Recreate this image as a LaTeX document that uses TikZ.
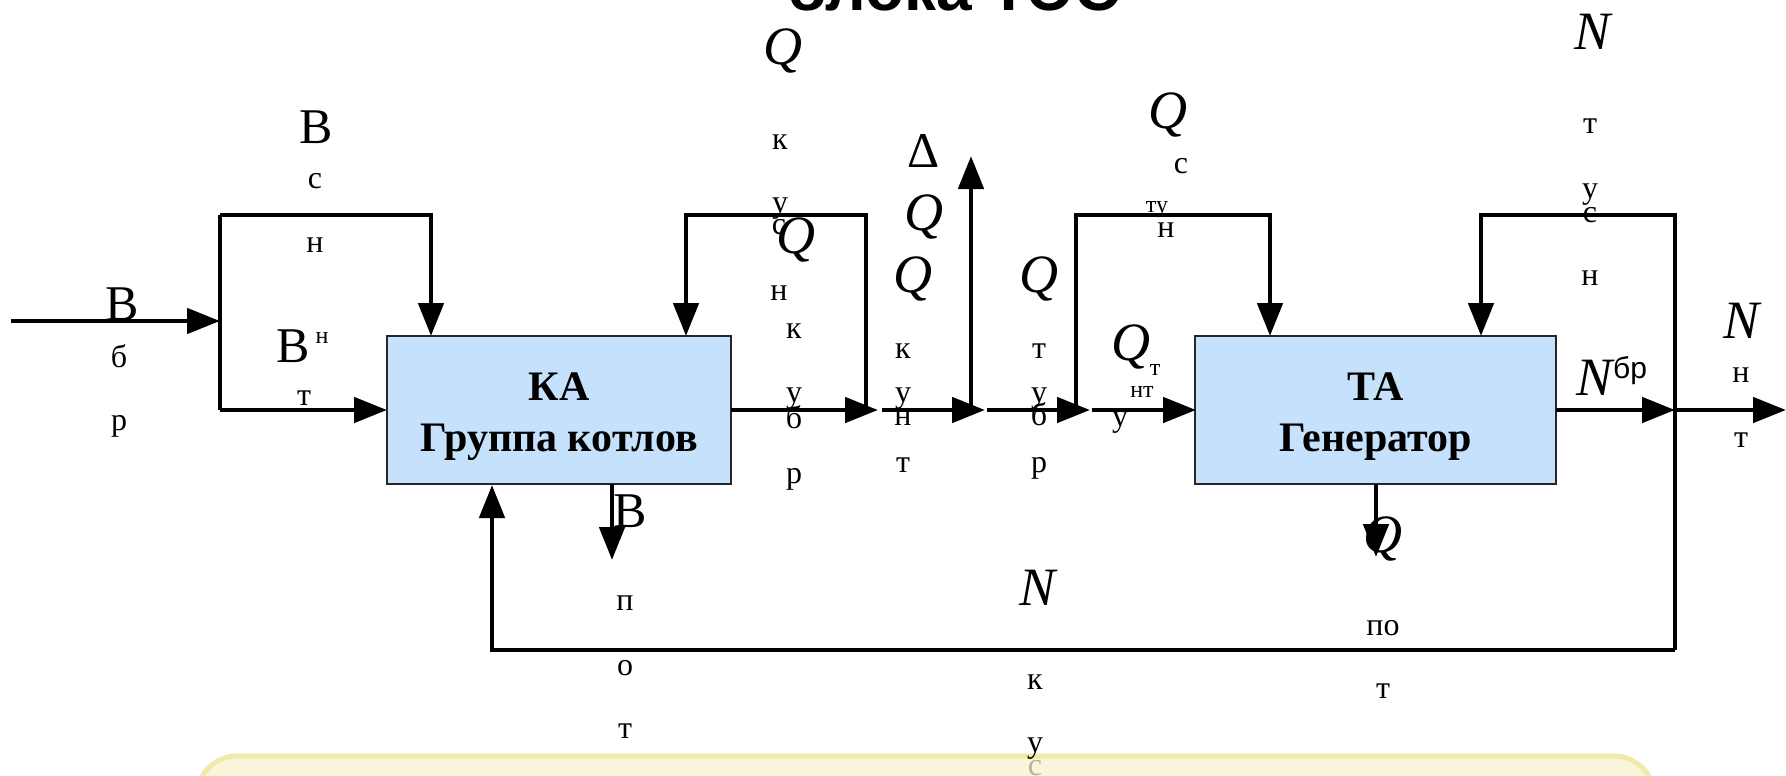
\documentclass[tikz,border=0pt]{standalone}
\usepackage{fontspec}
\setmainfont{Liberation Serif}
\setsansfont{Liberation Sans}
\usetikzlibrary{arrows.meta}
\definecolor{boxblue}{HTML}{C5E1FB}
\definecolor{noteline}{HTML}{F0EAA9}
\definecolor{notefill}{HTML}{F8F6DA}
\definecolor{fadetext}{HTML}{B8B49A}
\begin{document}
\begin{tikzpicture}[x=1pt,y=-1pt,
  wire/.style={line width=4.8pt},
  flow/.style={line width=4.8pt,-{Triangle[length=33pt,width=25pt]}},
  blk/.style={draw=black!85,line width=2.2pt,fill=boxblue,inner sep=0pt},
  btxt/.style={inner sep=0pt,anchor=base,font=\bfseries\fontsize{42}{42}\selectfont},
  lbig/.style={inner sep=0pt,anchor=base,font=\fontsize{50}{50}\selectfont},
  lit/.style={inner sep=0pt,anchor=base,font=\itshape\fontsize{54}{54}\selectfont},
  lsub/.style={inner sep=0pt,anchor=base,font=\fontsize{32}{32}\selectfont},
  lsmall/.style={inner sep=0pt,anchor=base,font=\fontsize{24}{24}\selectfont}]
\useasboundingbox (0,0) rectangle (1786,776);
\fill[white] (0,0) rectangle (1786,776);

% title (cut by the page edge)
\node[inner sep=0pt,anchor=base,font=\sffamily\bfseries\fontsize{64}{64}\selectfont] (title) at (954,11) {блока ТЭС};

% blocks
\node[blk,minimum width=344pt,minimum height=148pt] (KA) at (559,410) {};
\node[btxt] (KA1) at (559,400) {КА};
\node[btxt] (KA2) at (559,451) {Группа котлов};
\node[blk,minimum width=361pt,minimum height=148pt] (TA) at (1375.5,410) {};
\node[btxt] (TA1) at (1375.5,400) {ТА};
\node[btxt] (TA2) at (1375.5,451) {Генератор};

% coordinates
\coordinate (in) at (11,321);
\coordinate (a1) at (220,321);
\coordinate (aT) at (220,215);
\coordinate (aB) at (220,410);
\coordinate (aR) at (431,215);
\coordinate (kaL) at (387,410);
\coordinate (kaT1) at (431,336);
\coordinate (kaR) at (731,410);
\coordinate (kaT2) at (686,336);
\coordinate (bB) at (866,410);
\coordinate (bT) at (866,215);
\coordinate (bL) at (686,215);
\coordinate (s1e) at (878,410);
\coordinate (s2s) at (882,410);
\coordinate (s2e) at (985,410);
\coordinate (up0) at (971,410);
\coordinate (up1) at (971,156);
\coordinate (s3s) at (987,410);
\coordinate (s3e) at (1090,410);
\coordinate (cB) at (1076,410);
\coordinate (cT) at (1076,215);
\coordinate (cR) at (1270,215);
\coordinate (taT1) at (1270,336);
\coordinate (s4s) at (1092,410);
\coordinate (taL) at (1196,410);
\coordinate (taR) at (1556,410);
\coordinate (dM) at (1675,410);
\coordinate (dT) at (1675,215);
\coordinate (dL) at (1481,215);
\coordinate (taT2) at (1481,336);
\coordinate (dB) at (1675,650);
\coordinate (out) at (1786,410);
\coordinate (eL) at (492,650);
\coordinate (kaB) at (492,485);
\coordinate (kaD0) at (612,484);
\coordinate (kaD1) at (612,560);
\coordinate (taD0) at (1376,484);
\coordinate (taD1) at (1376,557);

% connectors
\draw[flow] (in) -- (a1);
\draw[wire] (aB) -- (aT);
\draw[flow] (aT) -- (aR) -- (kaT1);
\draw[flow] (aB) -- (kaL);
\draw[flow] (kaR) -- (s1e);
\draw[flow] (bB) -- (bT) -- (bL) -- (kaT2);
\draw[flow] (s2s) -- (s2e);
\draw[flow] (up0) -- (up1);
\draw[flow] (s3s) -- (s3e);
\draw[flow] (cB) -- (cT) -- (cR) -- (taT1);
\draw[flow] (s4s) -- (taL);
\draw[flow] (taR) -- (dM);
\draw[flow] (dB) -- (dT) -- (dL) -- (taT2);
\draw[flow] (dM) -- (out);
\draw[flow] (dB) -- (eL) -- (kaB);
\draw[flow] (kaD0) -- (kaD1);
\draw[flow] (taD0) -- (taD1);

% note box at the bottom
\draw[line width=5pt,draw=noteline,fill=notefill,rounded corners=40pt] (197,756) rectangle (1654,900);

% labels
\node[lbig] (l1) at (316,143) {В};
\node[lsub] (l2) at (315,188) {с};
\node[lsub] (l3) at (315,252) {н};
\node[lbig] (l4) at (122,320) {В};
\node[lsub] (l5) at (119,367) {б};
\node[lsub] (l6) at (119,430) {р};
\node[lbig] (l7) at (293,362) {В};
\node[lsmall] (l7a) at (322,343) {н};
\node[lsub] (l8) at (304,405) {т};
\node[lit] (l9) at (783,65) {Q};
\node[lsub] (l10) at (780,149) {к};
\node[lsub] (l11) at (780,212) {у};
\node[lsub] (l12) at (779,234) {с};
\node[lit] (l13) at (796,253) {Q};
\node[lsub] (l14) at (779,300) {н};
\node[lsub] (l15) at (794,338) {к};
\node[lsub] (l16) at (794,402) {у};
\node[lsub] (l17) at (794,428) {б};
\node[lsub] (l18) at (794,483) {р};
\node[lbig] (l19) at (924,167) {Δ};
\node[lit] (l20) at (924,230) {Q};
\node[lit] (l21) at (913,292) {Q};
\node[lsub] (l22) at (903,358) {к};
\node[lsub] (l23) at (903,402) {у};
\node[lsub] (l24) at (903,425) {н};
\node[lsub] (l25) at (903,472) {т};
\node[lit] (l26) at (1039,292) {Q};
\node[lsub] (l27) at (1039,358) {т};
\node[lsub] (l28) at (1039,402) {у};
\node[lsub] (l29) at (1039,425) {б};
\node[lsub] (l30) at (1039,472) {р};
\node[lit] (l31) at (1168,128) {Q};
\node[lsub] (l32) at (1181,173) {с};
\node[lsmall] (l33) at (1157,212) {ту};
\node[lsub] (l34) at (1166,237) {н};
\node[lit] (l35) at (1131,360) {Q};
\node[lsmall] (l36) at (1155,375) {т};
\node[lsmall] (l37) at (1142,397) {нт};
\node[lsub] (l38) at (1120,426) {у};
\node[lit] (l39) at (1592,50) {N};
\node[lsub] (l40) at (1590,133) {т};
\node[lsub] (l41) at (1590,198) {у};
\node[lsub] (l42) at (1590,222) {с};
\node[lsub] (l43) at (1590,285) {н};
\node[lit] (l44) at (1741,338) {N};
\node[lsub] (l45) at (1741,382) {н};
\node[lsub] (l46) at (1741,447) {т};
\node[lit] (l47) at (1594,395) {N};
\node[inner sep=0pt,anchor=base,font=\sffamily\fontsize{30}{30}\selectfont] (l47a) at (1630,378) {бр};
\node[lbig] (l48) at (630,527) {В};
\node[lsub] (l49) at (625,610) {п};
\node[lsub] (l50) at (625,675) {о};
\node[lsub] (l51) at (625,738) {т};
\node[lit] (l52) at (1037,605) {N};
\node[lsub] (l53) at (1035,689) {к};
\node[lsub] (l54) at (1035,752) {у};
\node[lsub,text=fadetext] (l55) at (1035,775) {с};
\node[lit] (l56) at (1383,552) {Q};
\node[lsub] (l57) at (1383,635) {по};
\node[lsub] (l58) at (1383,698) {т};
\end{tikzpicture}
\end{document}
